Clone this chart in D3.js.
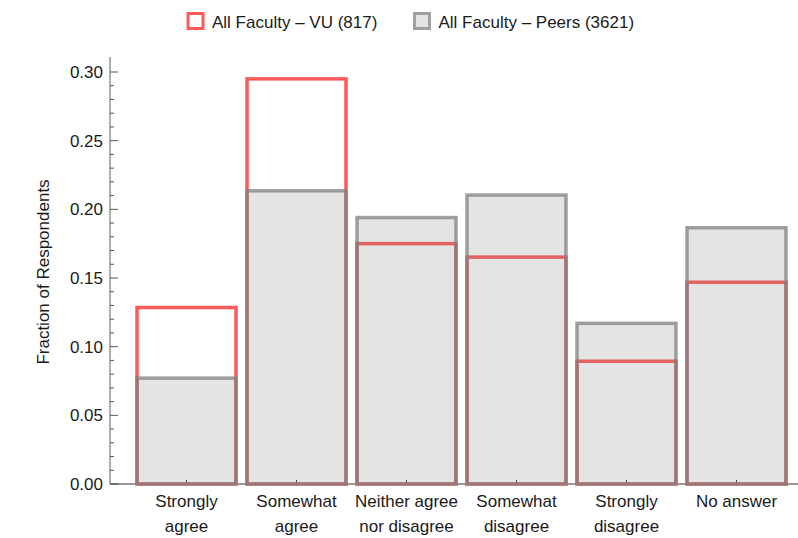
<!DOCTYPE html>
<html>
<head>
<meta charset="utf-8">
<script src="https://cdn.jsdelivr.net/npm/d3@7"></script>
<style>
  html, body { margin: 0; padding: 0; background: #fff; }
  svg { display: block; font-family: "Liberation Sans", Arial, sans-serif; }
</style>
</head>
<body>
<svg id="chart" width="798" height="538"></svg>
<script>
const categories = [
  ["Strongly", "agree"],
  ["Somewhat", "agree"],
  ["Neither agree", "nor disagree"],
  ["Somewhat", "disagree"],
  ["Strongly", "disagree"],
  ["No answer"]
];
const vuValues = [0.1285, 0.295, 0.175, 0.1652, 0.0894, 0.1469];
const peerValues = [0.0771, 0.2135, 0.194, 0.2104, 0.117, 0.1866];
const seriesNames = ["All Faculty \u2013 VU (817)", "All Faculty \u2013 Peers (3621)"];
const yTicks = [0, 0.05, 0.10, 0.15, 0.20, 0.25, 0.30];
const yTitle = "Fraction of Respondents";

const svg = d3.select("#chart");
const red = "#ff5a5a";
const grayFill = "rgba(128,128,128,0.21)";
const grayStroke = "rgba(128,128,128,0.75)";
const fs = 17;

const axisX = 110, axisY = 484;
const y = d3.scaleLinear().domain([0, 0.30]).range([484, 72]);
const yTop = 0.311;
const x = d3.scaleBand().domain(d3.range(categories.length))
  .range([131.5, 791.5]).paddingInner(0.1).paddingOuter(0.05);

// Y axis
const gy = svg.append("g");
gy.append("line").attr("x1", axisX).attr("x2", axisX)
  .attr("y1", y(yTop)).attr("y2", y(0)).attr("stroke", "#7a7a7a").attr("stroke-width", 1.2);
const minor = d3.range(0, 31).map(i => i / 100);
gy.selectAll("line.minor").data(minor).join("line")
  .attr("x1", axisX).attr("x2", d => axisX + (Math.round(d * 100) % 5 === 0 ? 8 : 4))
  .attr("y1", d => y(d)).attr("y2", d => y(d))
  .attr("stroke", "#555").attr("stroke-width", 1);
gy.selectAll("text").data(yTicks).join("text")
  .attr("x", axisX - 7).attr("y", d => y(d)).attr("dy", "0.35em")
  .attr("text-anchor", "end").attr("font-size", fs).attr("fill", "#1a1a1a")
  .text(d => d3.format(".2f")(d));

// X axis
svg.append("line").attr("x1", axisX).attr("x2", 798)
  .attr("y1", axisY).attr("y2", axisY).attr("stroke", "#333").attr("stroke-width", 1.2);
svg.selectAll("line.xt").data(categories).join("line")
  .attr("x1", (d, i) => x(i) + x.bandwidth() / 2).attr("x2", (d, i) => x(i) + x.bandwidth() / 2)
  .attr("y1", axisY).attr("y2", axisY - 4).attr("stroke", "#333");
const xl = svg.selectAll("text.xl").data(categories).join("text")
  .attr("text-anchor", "middle").attr("font-size", fs).attr("fill", "#1a1a1a")
  .attr("transform", (d, i) => `translate(${x(i) + x.bandwidth() / 2},0)`);
xl.selectAll("tspan").data(d => d).join("tspan")
  .attr("x", 0).attr("y", (d, j) => 507 + j * 25).text(d => d);

// Y title
svg.append("text").attr("transform", "translate(49,272) rotate(-90)")
  .attr("text-anchor", "middle").attr("font-size", fs).attr("fill", "#1a1a1a").text(yTitle);

// Bars: VU (red outline) then Peers (gray translucent) on top
svg.selectAll("rect.vu").data(vuValues).join("rect")
  .attr("x", (d, i) => x(i)).attr("width", x.bandwidth())
  .attr("y", d => y(d)).attr("height", d => y(0) - y(d))
  .attr("fill", "none").attr("stroke", red).attr("stroke-width", 3.5);
svg.selectAll("rect.pe").data(peerValues).join("rect")
  .attr("x", (d, i) => x(i)).attr("width", x.bandwidth())
  .attr("y", d => y(d)).attr("height", d => y(0) - y(d))
  .attr("fill", grayFill).attr("stroke", grayStroke).attr("stroke-width", 3.5);

// Legend
const leg = svg.append("g");
const legItems = [
  { name: seriesNames[0], x: 188, fill: "#fff", stroke: red },
  { name: seriesNames[1], x: 414.5, fill: "#e4e4e4", stroke: "#a0a0a0" }
];
legItems.forEach(it => {
  leg.append("rect").attr("x", it.x).attr("y", 13.5).attr("width", 15).attr("height", 15)
    .attr("fill", it.fill).attr("stroke", it.stroke).attr("stroke-width", 3);
  leg.append("text").attr("x", it.x + 24).attr("y", 28).attr("font-size", fs)
    .attr("fill", "#1a1a1a").text(it.name);
});
</script>
</body>
</html>
